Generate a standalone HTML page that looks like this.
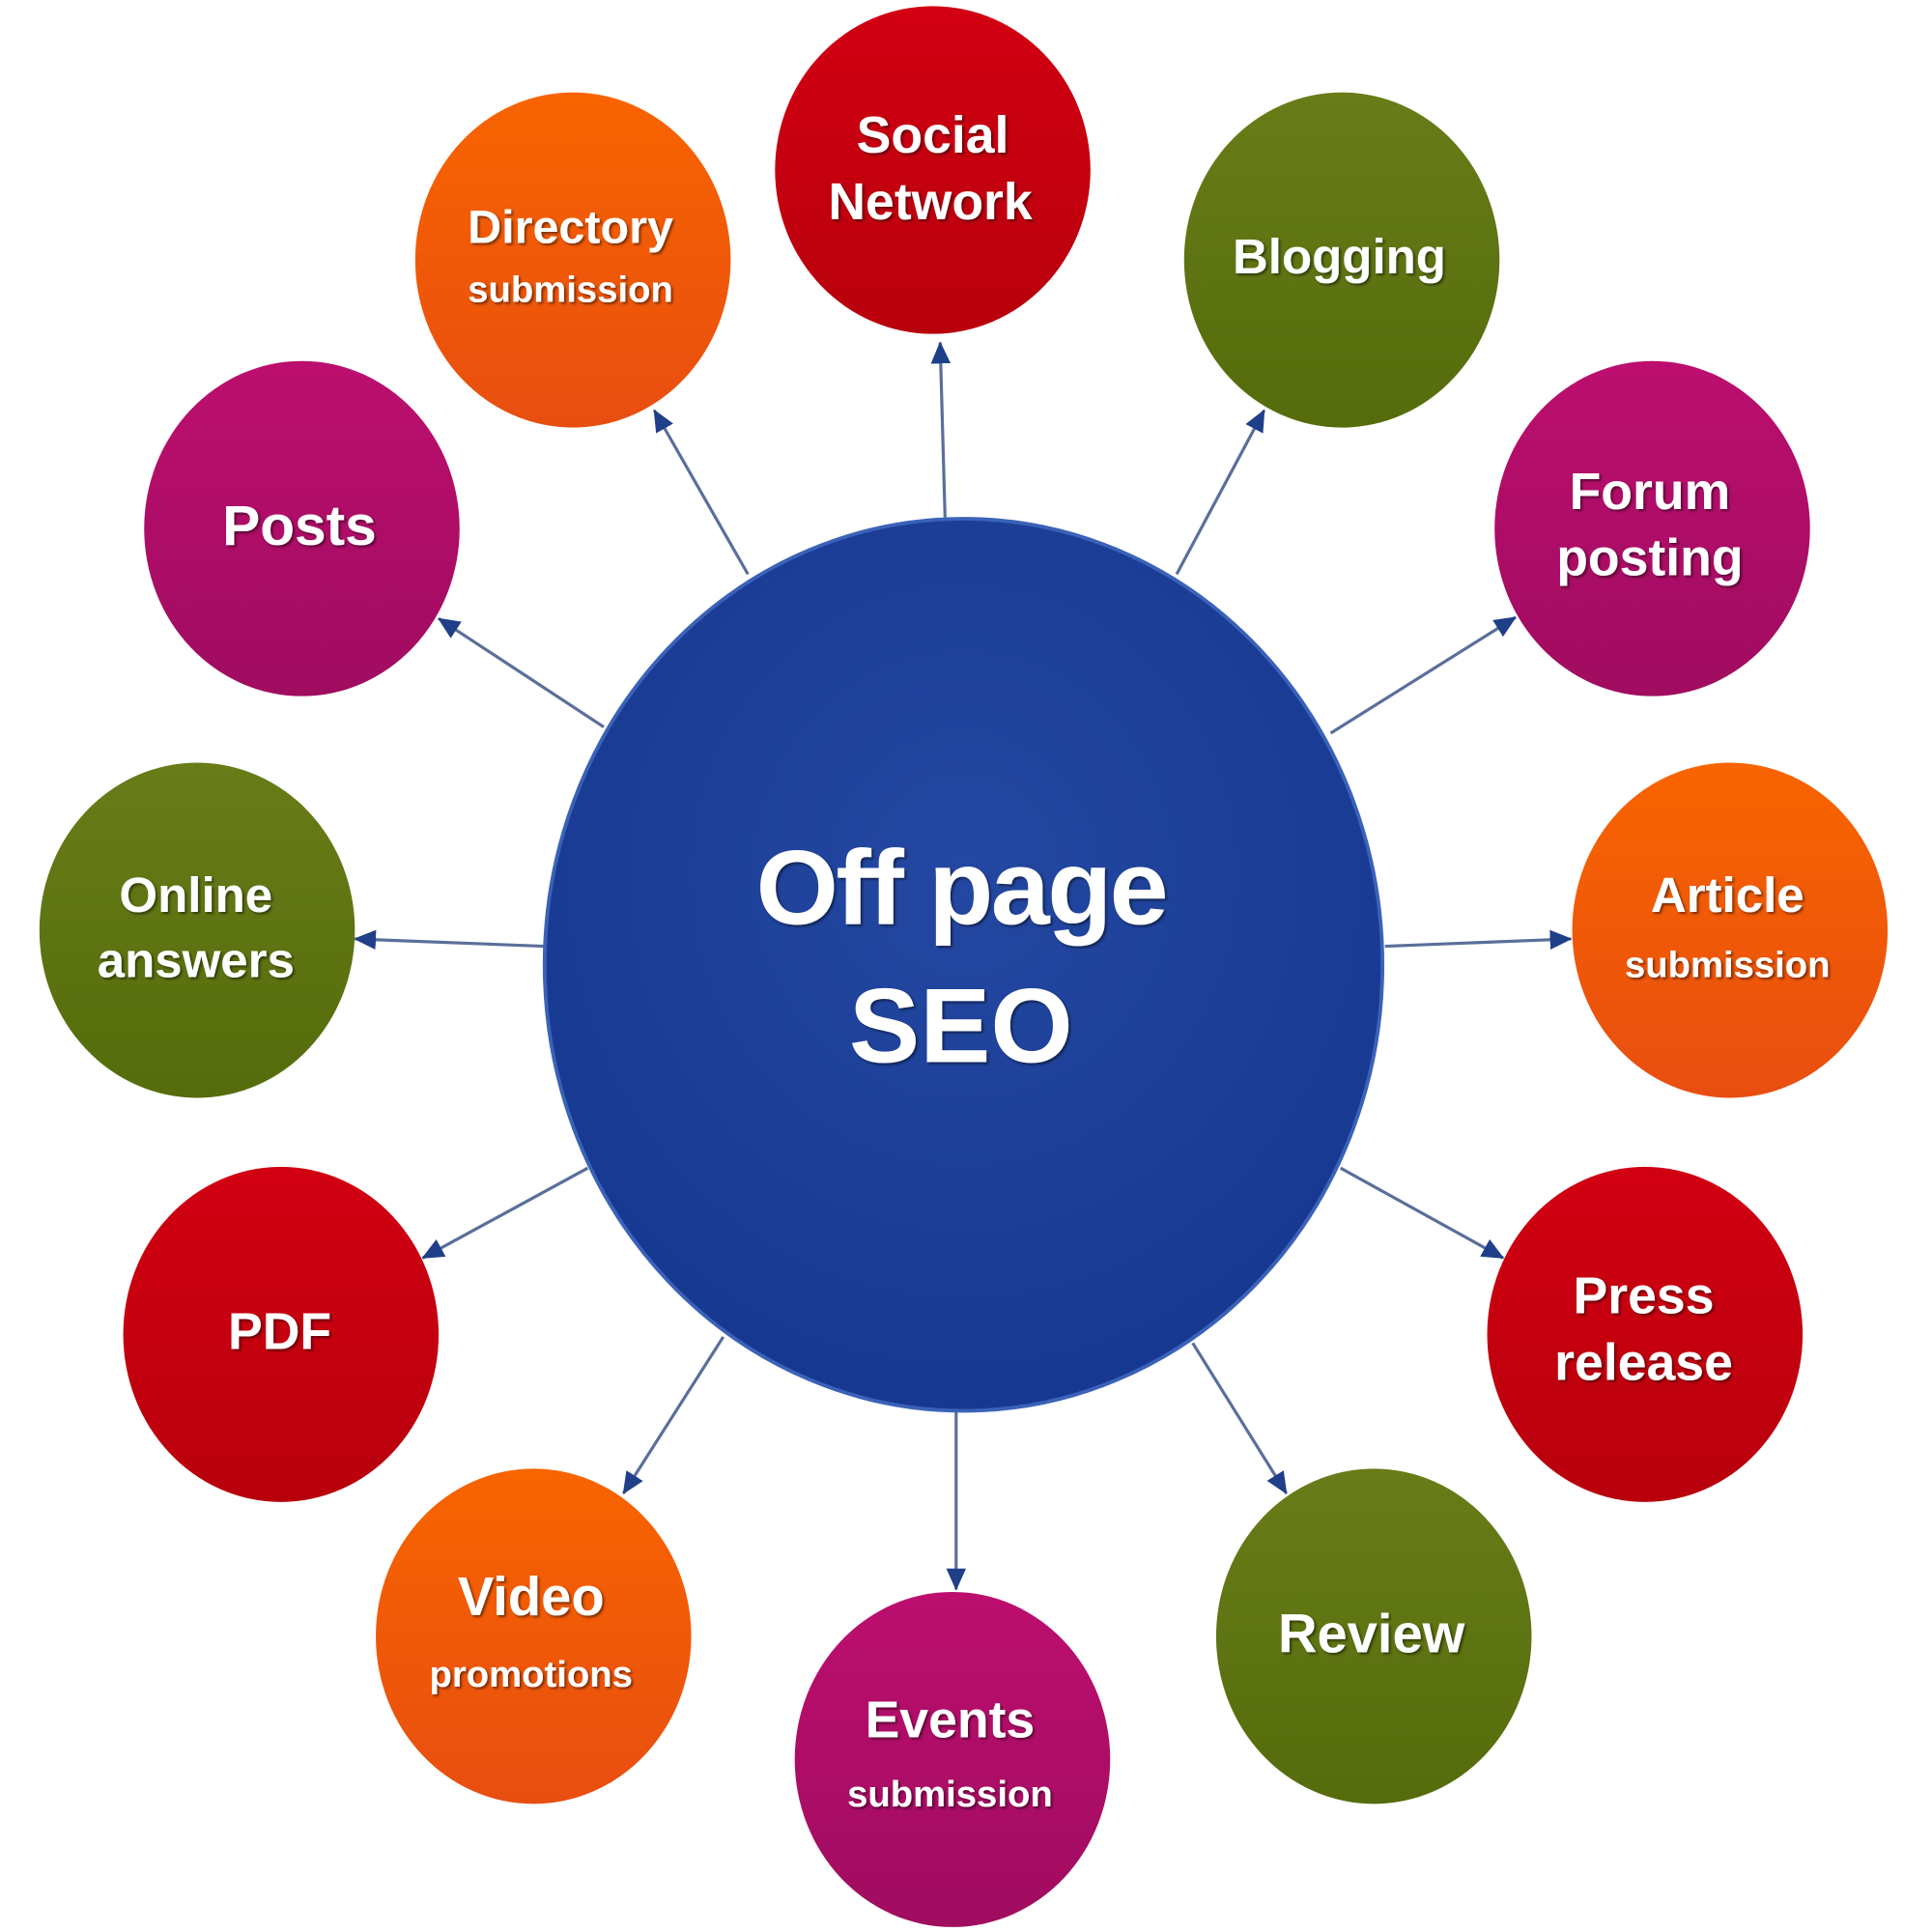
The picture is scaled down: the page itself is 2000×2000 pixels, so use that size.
<!DOCTYPE html>
<html><head><meta charset="utf-8"><style>
html,body{margin:0;padding:0;background:#fff;}
svg{display:block;}
text{font-family:"Liberation Sans",sans-serif;font-weight:bold;fill:#fff;text-anchor:middle;}
</style></head><body>
<svg width="2000" height="2000" viewBox="0 0 1568 1568" preserveAspectRatio="none" xmlns="http://www.w3.org/2000/svg">
<defs>
<radialGradient id="blue" cx="50%" cy="40%" r="60%"><stop offset="0" stop-color="#2448a2"/><stop offset="1" stop-color="#173890"/></radialGradient>
<linearGradient id="red" x1="0" y1="0" x2="0" y2="1"><stop offset="0" stop-color="#d10012"/><stop offset="1" stop-color="#b8000c"/></linearGradient>
<linearGradient id="org" x1="0" y1="0" x2="0" y2="1"><stop offset="0" stop-color="#f86400"/><stop offset="1" stop-color="#e84e10"/></linearGradient>
<linearGradient id="olv" x1="0" y1="0" x2="0" y2="1"><stop offset="0" stop-color="#687c18"/><stop offset="1" stop-color="#556c0c"/></linearGradient>
<linearGradient id="mag" x1="0" y1="0" x2="0" y2="1"><stop offset="0" stop-color="#bc0e6e"/><stop offset="1" stop-color="#a00c60"/></linearGradient>
<marker id="ah" markerWidth="18" markerHeight="16" refX="17" refY="8" orient="auto" markerUnits="userSpaceOnUse" viewBox="0 0 18 16"><path d="M0,0 L18,8 L0,16 z" fill="#1f3f88"/></marker>
<filter id="sh"><feDropShadow dx="1.5" dy="1.5" stdDeviation="1" flood-color="#000" flood-opacity="0.5"/></filter>
</defs>
<g stroke="#5a6f99" stroke-width="2.5" marker-end="url(#ah)">
<line x1="767" y1="420" x2="763" y2="278"/>
<line x1="607" y1="466" x2="531" y2="333"/>
<line x1="955" y1="466" x2="1026" y2="333"/>
<line x1="490" y1="590" x2="356" y2="502"/>
<line x1="1080" y1="595" x2="1230" y2="501"/>
<line x1="442" y1="768" x2="288" y2="762"/>
<line x1="1124" y1="768" x2="1275" y2="762"/>
<line x1="477" y1="948" x2="343" y2="1021"/>
<line x1="1088" y1="948" x2="1220" y2="1021"/>
<line x1="587" y1="1085" x2="506" y2="1212"/>
<line x1="776" y1="1145" x2="776" y2="1290"/>
<line x1="968" y1="1090" x2="1044" y2="1212"/>
</g>
<ellipse cx="782" cy="783" rx="340" ry="362" fill="url(#blue)" stroke="#3a62b8" stroke-width="3"/>
<g>
<ellipse cx="757" cy="138" rx="128" ry="133" fill="url(#red)"/>
<ellipse cx="465" cy="211" rx="128" ry="136" fill="url(#org)"/>
<ellipse cx="1089" cy="211" rx="128" ry="136" fill="url(#olv)"/>
<ellipse cx="245" cy="429" rx="128" ry="136" fill="url(#mag)"/>
<ellipse cx="1341" cy="429" rx="128" ry="136" fill="url(#mag)"/>
<ellipse cx="160" cy="755" rx="128" ry="136" fill="url(#olv)"/>
<ellipse cx="1404" cy="755" rx="128" ry="136" fill="url(#org)"/>
<ellipse cx="228" cy="1083" rx="128" ry="136" fill="url(#red)"/>
<ellipse cx="1335" cy="1083" rx="128" ry="136" fill="url(#red)"/>
<ellipse cx="433" cy="1328" rx="128" ry="136" fill="url(#org)"/>
<ellipse cx="773" cy="1428" rx="128" ry="136" fill="url(#mag)"/>
<ellipse cx="1115" cy="1328" rx="128" ry="136" fill="url(#olv)"/>
</g>
<g filter="url(#sh)">
<text x="780" y="750" font-size="86" letter-spacing="-2">Off page</text>
<text x="780" y="862" font-size="86">SEO</text>
<text x="757" y="124" font-size="42">Social</text>
<text x="755" y="178" font-size="42">Network</text>
<text x="463" y="197" font-size="38">Directory</text>
<text x="463" y="245" font-size="30">submission</text>
<text x="1087" y="222" font-size="40">Blogging</text>
<text x="243" y="442" font-size="46">Posts</text>
<text x="1339" y="413" font-size="42">Forum</text>
<text x="1339" y="467" font-size="42">posting</text>
<text x="159" y="740" font-size="40">Online</text>
<text x="159" y="793" font-size="40">answers</text>
<text x="1402" y="740" font-size="40">Article</text>
<text x="1402" y="793" font-size="30">submission</text>
<text x="227" y="1095" font-size="42">PDF</text>
<text x="1334" y="1066" font-size="42">Press</text>
<text x="1334" y="1120" font-size="42">release</text>
<text x="431" y="1311" font-size="44">Video</text>
<text x="431" y="1369" font-size="30">promotions</text>
<text x="771" y="1410" font-size="42">Events</text>
<text x="771" y="1466" font-size="30">submission</text>
<text x="1113" y="1341" font-size="44">Review</text>
</g>
</svg>
</body></html>
